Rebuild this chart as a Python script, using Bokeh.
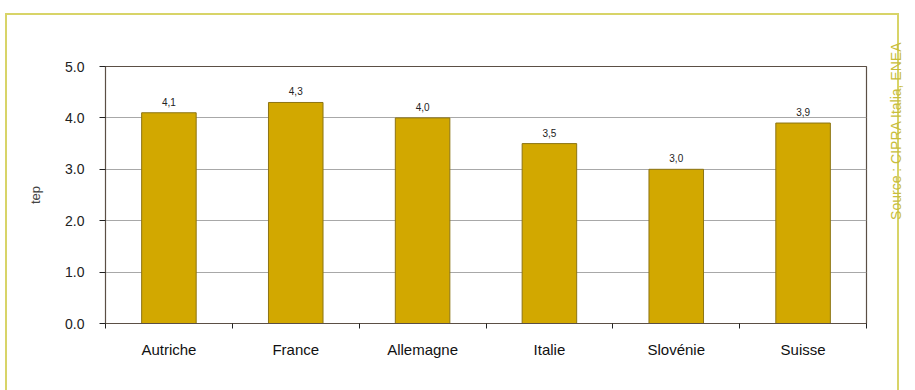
import math
from bokeh.plotting import figure
from bokeh.models import (ColumnDataSource, FixedTicker, PrintfTickFormatter,
                          Range1d, LabelSet, LinearAxis, InlineStyleSheet)
from bokeh.core.properties import value
from bokeh.embed import file_html
from bokeh.resources import INLINE

countries = ["Autriche", "France", "Allemagne", "Italie", "Slovénie", "Suisse"]
values = [4.1, 4.3, 4.0, 3.5, 3.0, 3.9]
value_labels = ["4,1", "4,3", "4,0", "3,5", "3,0", "3,9"]
y_ticks = [0, 1, 2, 3, 4, 5]
source_text = "Source : CIPRA Italia, ENEA"

xc = [i + 0.5 for i in range(len(countries))]
src = ColumnDataSource(dict(x=xc, top=values, lab=value_labels))

frame_css = InlineStyleSheet(css="""
:host::after {
  content: "";
  position: absolute;
  left: 5px; top: 13px;
  width: 890px; height: 420px;
  border: 2px solid #d8d468;
  pointer-events: none;
  z-index: -1;
}
""")

W, H = 915, 388
p = figure(width=W, height=H, output_backend="svg", toolbar_location=None,
           x_range=Range1d(0, len(countries)), y_range=Range1d(0, 5),
           min_border_left=105, min_border_right=W - 869, min_border_top=66,
           min_border_bottom=H - 323, stylesheets=[frame_css])

p.background_fill_color = "#ffffff"
p.border_fill_alpha = 0
p.outline_line_color = "#5b4f45"
p.outline_line_width = 1.2

p.vbar(x="x", top="top", width=0.43, source=src, fill_color="#d2a800",
       line_color="#8c7414", line_width=1)

p.add_layout(LabelSet(x="x", y="top", text="lab", source=src, y_offset=7,
                      text_align="center", text_font=value("Liberation Sans"),
                      text_font_size="10px", text_color="#222222"))

# axes
p.xaxis.ticker = FixedTicker(ticks=xc, minor_ticks=list(range(len(countries) + 1)))
p.xaxis.major_label_overrides = {x: c for x, c in zip(xc, countries)}
p.xaxis.major_tick_line_alpha = 0
p.xaxis.minor_tick_in = 0
p.xaxis.minor_tick_out = 5
p.xaxis.minor_tick_line_color = "#222222"
p.xaxis.major_label_standoff = 11
p.xaxis.major_label_text_font = "Liberation Sans"
p.xaxis.major_label_text_font_size = "15px"
p.xaxis.major_label_text_color = "#111111"
p.xaxis.axis_line_color = "#5b4f45"

p.yaxis.ticker = FixedTicker(ticks=y_ticks, minor_ticks=[])
p.yaxis.formatter = PrintfTickFormatter(format="%.1f")
p.yaxis.major_tick_in = 0
p.yaxis.major_tick_out = 6
p.yaxis.major_tick_line_color = "#222222"
p.yaxis.major_label_standoff = 15
p.yaxis.major_label_text_font = "Liberation Sans"
p.yaxis.major_label_text_font_size = "14px"
p.yaxis.major_label_text_color = "#222222"
p.yaxis.axis_line_color = "#5b4f45"
p.yaxis.axis_label = "tep"
p.yaxis.axis_label_text_font = "Liberation Sans"
p.yaxis.axis_label_text_font_style = "normal"
p.yaxis.axis_label_text_font_size = "13px"
p.yaxis.axis_label_standoff = 19

p.xgrid.grid_line_color = None
p.ygrid.grid_line_color = "#a8a8a8"
p.ygrid.grid_line_width = 1

# source note on the right, as a rotated axis label
p.extra_y_ranges = {"note": Range1d(0, 5)}
note_pos = 3.62
note_axis = LinearAxis(y_range_name="note",
                       ticker=FixedTicker(ticks=[note_pos], minor_ticks=[]),
                       major_label_overrides={note_pos: source_text},
                       major_label_orientation=math.pi / 2,
                       major_label_standoff=30,
                       major_tick_in=0, major_tick_out=0,
                       major_label_text_font="Liberation Sans",
                       major_label_text_font_size="14px",
                       major_label_text_color="#c9bd3c",
                       axis_line_color=None, major_tick_line_color=None,
                       minor_tick_line_color=None)
p.add_layout(note_axis, "right")

open("out.html", "w").write(file_html(p, INLINE))
